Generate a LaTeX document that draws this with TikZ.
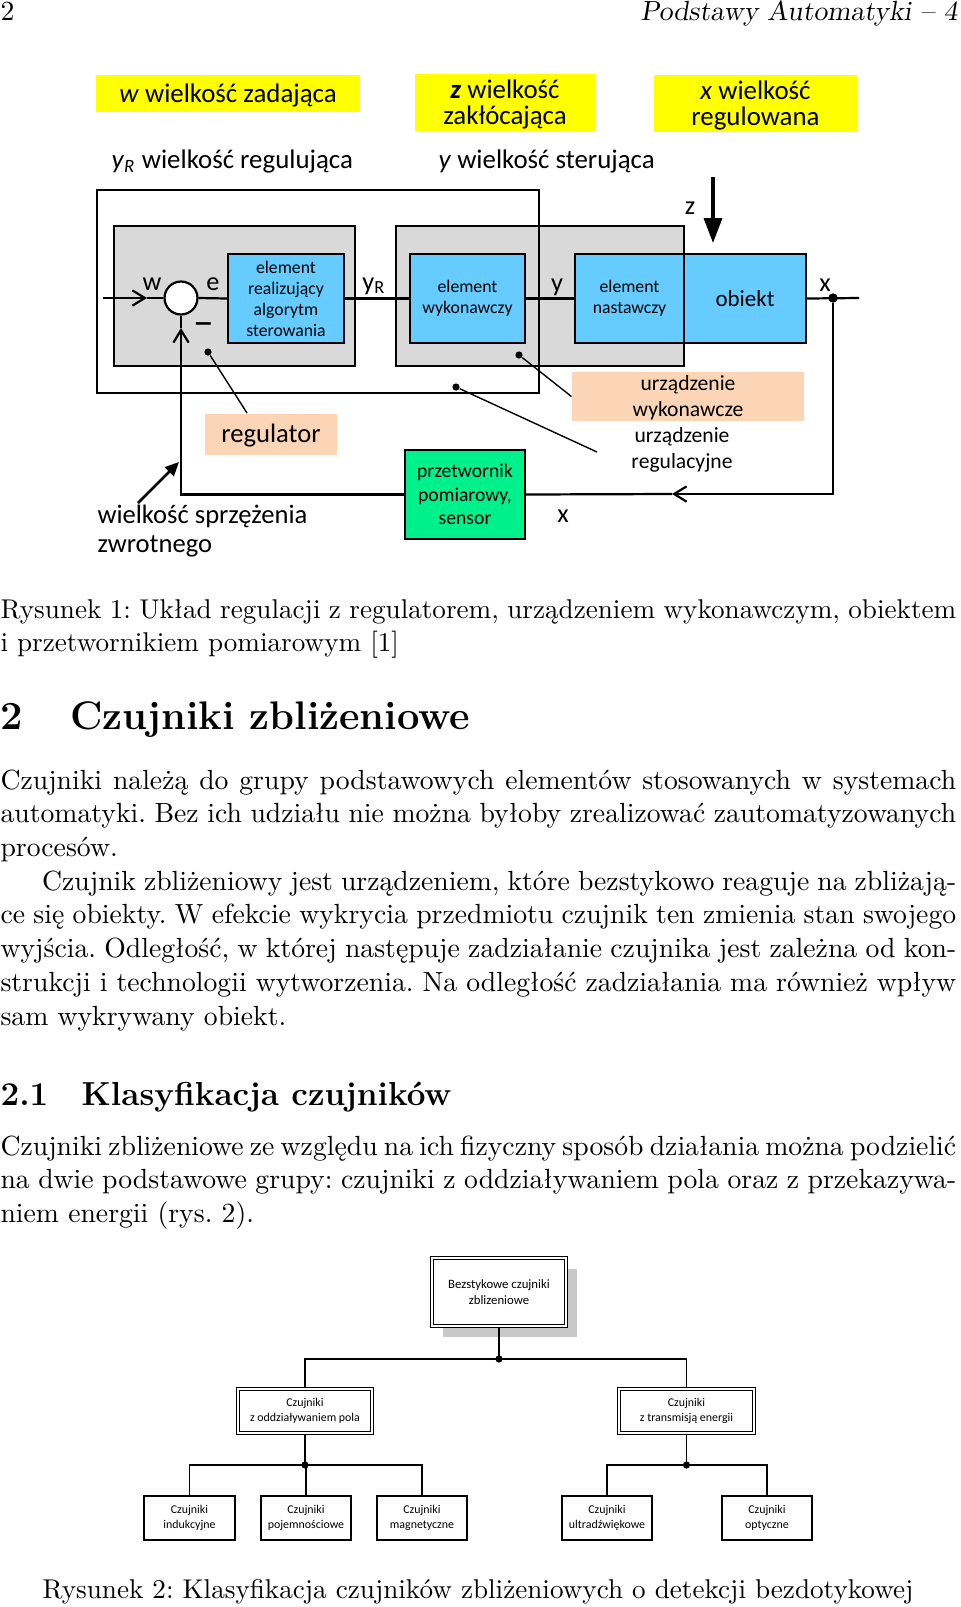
\documentclass[tikz,border=0pt]{standalone}
\usepackage{fontspec}
\newfontfamily\diagfont{Carlito}
\usetikzlibrary{arrows.meta, positioning, fit, shadows, calc}
\definecolor{yel}{RGB}{255,255,0}
\definecolor{boxgrey}{RGB}{217,217,217}
\definecolor{elblue}{RGB}{102,204,255}
\definecolor{peach}{RGB}{251,213,181}
\definecolor{sensgreen}{RGB}{0,240,140}
\definecolor{shade}{RGB}{200,200,200}
\frenchspacing

\begin{document}
\begin{tikzpicture}[x=0.361pt, y=-0.361pt,
    txt/.style={inner sep=0pt},
    intext/.style={inner sep=0pt, align=center},
    para/.style={anchor=base west, inner sep=0pt, text width=345pt,
      align=justify, font=\fontsize{10}{12.17}\selectfont},
    legendbox/.style={fill=yel, inner sep=0pt},
    legendtext/.style={intext, yshift=-0.7pt,
      font=\diagfont\fontsize{9.7}{9.4}\selectfont},
    greybox/.style={fill=boxgrey, draw, line width=0.8pt, inner sep=0pt},
    elem/.style={fill=elblue, draw, line width=0.8pt, inner sep=0pt},
    elemtext/.style={intext, font=\diagfont\fontsize{6.4}{7.6}\selectfont},
    notebox/.style={fill=peach, inner sep=0pt},
    sig/.style={inner sep=0pt, font=\diagfont\fontsize{9.5}{10}\selectfont},
    wire/.style={line width=0.8pt},
    barb/.style={-{Straight Barb[length=4.5pt,width=5.5pt]}},
    sdot/.style={circle, fill, inner sep=0pt, minimum size=2.6pt},
    cls/.style={draw, line width=0.45pt, fill=white, inner sep=0pt},
    clstext/.style={intext, font=\diagfont\fontsize{4.3}{5.4}\selectfont},
    midcls/.style={cls, double, double distance=0.6pt, line width=0.4pt},
    rootcls/.style={midcls, drop shadow={shadow xshift=4pt,
      shadow yshift=-4pt, fill=shade, opacity=1}},
    tree/.style={line width=0.45pt},
    jdot/.style={circle, fill, inner sep=0pt, minimum size=2.6pt}]
  \useasboundingbox (0,0) rectangle (960,1607);

  % page head
  \node[txt, anchor=base west] (pnum) at (0,20) {2};
  \node[txt, anchor=base east] (phead) at (958,20)
    {\slshape Podstawy Automatyki -- 4};

  % figure 1: legend
  \node[legendbox, fit={(96,75) (360,112)}] (lw) {};
  \node[legendbox, fit={(415,74) (595,131)}] (lz) {};
  \node[legendbox, fit={(654,75) (857,132)}] (lx) {};
  \node[legendtext] at (lw.center) {\textit{w} wielkość zadająca};
  \node[legendtext] at (lz.center) {\textbf{\textit{z}} wielkość\\zakłócająca};
  \node[legendtext] at (lx.center) {\textit{x} wielkość\\regulowana};
  \node[sig, anchor=west, font=\diagfont\fontsize{9.7}{10}\selectfont] (lyr)
    at (111,161) {\textit{y}\textsubscript{\textit{R}} wielkość regulująca};
  \node[sig, anchor=west, font=\diagfont\fontsize{9.7}{10}\selectfont] (ly)
    at (438,161) {\textit{y} wielkość sterująca};

  % figure 1: blocks
  \node[greybox, fit={(114,226) (355,366)}] (reg) {};
  \node[greybox, fit={(396,226) (684,366)}] (uwyk) {};
  \node[elem, fit={(228,254) (344,343)}] (alg) {};
  \node[elem, fit={(410,254) (525,343)}] (wyk) {};
  \node[elem, fit={(575,254) (684,343)}] (nast) {};
  \node[elem, fit={(684,254) (806,343)}] (obj) {};
  \node[elemtext] at (alg.center) {element\\realizujący\\algorytm\\sterowania};
  \node[elemtext] at (wyk.center) {element\\wykonawczy};
  \node[elemtext] at (nast.center) {element\\nastawczy};
  \node[elemtext, font=\diagfont\fontsize{8.3}{9}\selectfont] at (obj.center) {obiekt};
  \node[draw, line width=0.8pt, inner sep=0pt, fit={(97,190) (539,393)}] (ureg) {};
  \node[circle, draw, fill=white, line width=0.8pt, inner sep=0pt,
        minimum size=11.9pt] (sum) at (181,298) {};
  \node[elem, fill=sensgreen, fit={(405,450) (525,539)}] (sens) {};
  \node[elemtext, font=\diagfont\fontsize{7.1}{8.4}\selectfont] at (sens.center)
    {przetwornik\\pomiarowy,\\sensor};

  % figure 1: descriptions
  \node[notebox, fit={(205,414) (337,455)}] (lreg) {};
  \node[notebox, fit={(572,372) (804,421)}] (luw) {};
  \node[intext, yshift=-0.5pt, font=\diagfont\fontsize{9.6}{10}\selectfont]
    at (lreg.center) {regulator};
  \node[intext, yshift=-0.5pt, font=\diagfont\fontsize{7.8}{9.6}\selectfont]
    at (luw.center) {urządzenie\\wykonawcze};
  \node[intext, font=\diagfont\fontsize{7.8}{9.5}\selectfont] (lur)
    at (682,450) {urządzenie\\regulacyjne};
  \node[txt, align=left, anchor=west, font=\diagfont\fontsize{9.6}{10.2}\selectfont]
    (lfb) at (97,531) {wielkość sprzężenia\\zwrotnego};

  % figure 1: signal names
  \node[sig] (sw) at (152,284) {w};
  \node[sig] (se) at (213,284) {e};
  \node[sig] (syr) at (374,286) {y\textsubscript{R}};
  \node[sig] (sy) at (557,287) {y};
  \node[sig] (sx) at (825,285) {x};
  \node[sig] (sz) at (690,208) {z};
  \node[sig, font=\diagfont\fontsize{15}{15}\selectfont] (sminus) at (204,329) {–};
  \node[sig] (sxfb) at (563,516) {x};

  % figure 1: signal path
  \coordinate (win) at (103,298);
  \coordinate (wtip) at (147,298);
  \node[sdot, minimum size=3.4pt] (xdot) at (833,298) {};
  \coordinate (xend) at (859,298);
  \coordinate (fbtip) at (672,494);
  \coordinate (sumtip) at (181,328);
  \coordinate (ztop) at (713,177);
  \coordinate (zend) at (713,243);
  \coordinate (fbsrc) at (138,503);
  \coordinate (fbdst) at (179,462);
  \draw[wire, barb] (win) -- (wtip);
  \draw[wire] (wtip) -- (sum.west);
  \draw[wire] (sum.east) -- (alg.west);
  \draw[wire] (alg.east) -- (wyk.west);
  \draw[wire] (wyk.east) -- (nast.west);
  \draw[wire] (obj.east) -- (xend);
  \draw[wire, barb] (xdot) |- (fbtip);
  \draw[wire] (fbtip) -- (sens.east);
  \draw[wire, barb] (sens.west) -| (sumtip);
  \draw[wire] (sumtip) -- (sum.south);
  \draw[line width=1.2pt, -{Triangle[length=9pt,width=6.5pt]}] (ztop) -- (zend);
  \draw[line width=0.9pt, -{Triangle[length=5pt,width=4.5pt]}] (fbsrc) -- (fbdst);

  % figure 1: pointers
  \node[sdot] (dreg) at (208,352) {};
  \node[sdot] (dwyk) at (519,355) {};
  \node[sdot] (dur) at (456,387) {};
  \coordinate (preg) at (247,413);
  \coordinate (pur) at (597,452);
  \draw[line width=0.5pt] (dreg) -- (preg);
  \draw[line width=0.5pt] (dwyk) -- (luw.west);
  \draw[line width=0.5pt] (dur) -- (pur);

  % text between the figures
  \node[para, font=\fontsize{9.8}{12.17}\selectfont] (cap1) at (0,618)
    {Rysunek 1: Układ regulacji z regulatorem,
    urządzeniem wykonawczym, obiektem\linebreak i przetwornikiem pomiarowym [1]};
  \node[txt, anchor=base west, font=\fontsize{14.4}{17}\bfseries] (sec) at (0,729)
    {2\hspace{17pt}Czujniki zbliżeniowe};
  \node[para] (par1) at (0,789) {Czujniki należą do grupy podstawowych elementów
    stosowanych w systemach\linebreak automatyki. Bez ich udziału nie można byłoby
    zrealizować zautomatyzowanych\linebreak procesów.\par
    \hspace*{15pt}Czujnik zbliżeniowy jest urządzeniem, które bezstykowo reaguje
    na zbliżają-\linebreak ce się obiekty. W efekcie wykrycia przedmiotu czujnik ten
    zmienia stan swojego\linebreak wyjścia. Odległość, w której następuje zadziałanie
    czujnika jest zależna od kon-\linebreak strukcji i technologii wytworzenia. Na
    odległość zadziałania ma również wpływ\linebreak sam wykrywany obiekt.};
  \node[txt, anchor=base west, font=\fontsize{12}{14}\bfseries] (subsec) at (0,1105)
    {2.1\hspace{12pt}Klasyfikacja czujników};
  \node[para] (par3) at (0,1155) {Czujniki zbliżeniowe ze względu na ich fizyczny
    sposób działania można podzielić\linebreak na dwie podstawowe grupy: czujniki
    z oddziaływaniem pola oraz z przekazywa-\linebreak niem energii (rys.~2).};

  % figure 2: classification tree
  \node[rootcls, fit={(432,1258) (566,1326)}] (root) {};
  \node[midcls, fit={(238,1389) (372,1433)}] (pole) {};
  \node[midcls, fit={(619,1389) (754,1433)}] (energ) {};
  \node[cls, fit={(144,1496) (235,1540)}] (ind) {};
  \node[cls, fit={(261,1496) (351,1540)}] (poj) {};
  \node[cls, fit={(377,1496) (467,1540)}] (mag) {};
  \node[cls, fit={(562,1496) (652,1540)}] (ult) {};
  \node[cls, fit={(722,1496) (812,1540)}] (opt) {};
  \node[clstext, font=\diagfont\fontsize{4.6}{6}\selectfont] at (root.center)
    {Bezstykowe czujniki\\zblizeniowe};
  \node[clstext] at (pole.center) {Czujniki\\z oddziaływaniem pola};
  \node[clstext] at (energ.center) {Czujniki\\z transmisją energii};
  \node[clstext] at (ind.center) {Czujniki\\indukcyjne};
  \node[clstext] at (poj.center) {Czujniki\\pojemnościowe};
  \node[clstext] at (mag.center) {Czujniki\\magnetyczne};
  \node[clstext] at (ult.center) {Czujniki\\ultradźwiękowe};
  \node[clstext] at (opt.center) {Czujniki\\optyczne};
  \node[jdot] (j0) at (499,1359) {};
  \node[jdot] (j1) at (305,1465) {};
  \node[jdot] (j2) at (686.5,1465) {};
  \draw[tree] (root.south) -- (j0.center);
  \draw[tree] (j0.center) -| (pole.north);
  \draw[tree] (j0.center) -| (energ.north);
  \draw[tree] (pole.south) -- (j1.center);
  \draw[tree] (j1.center) -| (ind.north);
  \draw[tree] (j1.center) -| (poj.north);
  \draw[tree] (j1.center) -| (mag.north);
  \draw[tree] (energ.south) -- (j2.center);
  \draw[tree] (j2.center) -| (ult.north);
  \draw[tree] (j2.center) -| (opt.north);

  \node[txt, anchor=base, font=\fontsize{9.8}{12}\selectfont] (cap2) at (478,1598)
    {Rysunek 2: Klasyfikacja czujników zbliżeniowych o detekcji bezdotykowej};
\end{tikzpicture}
\end{document}
